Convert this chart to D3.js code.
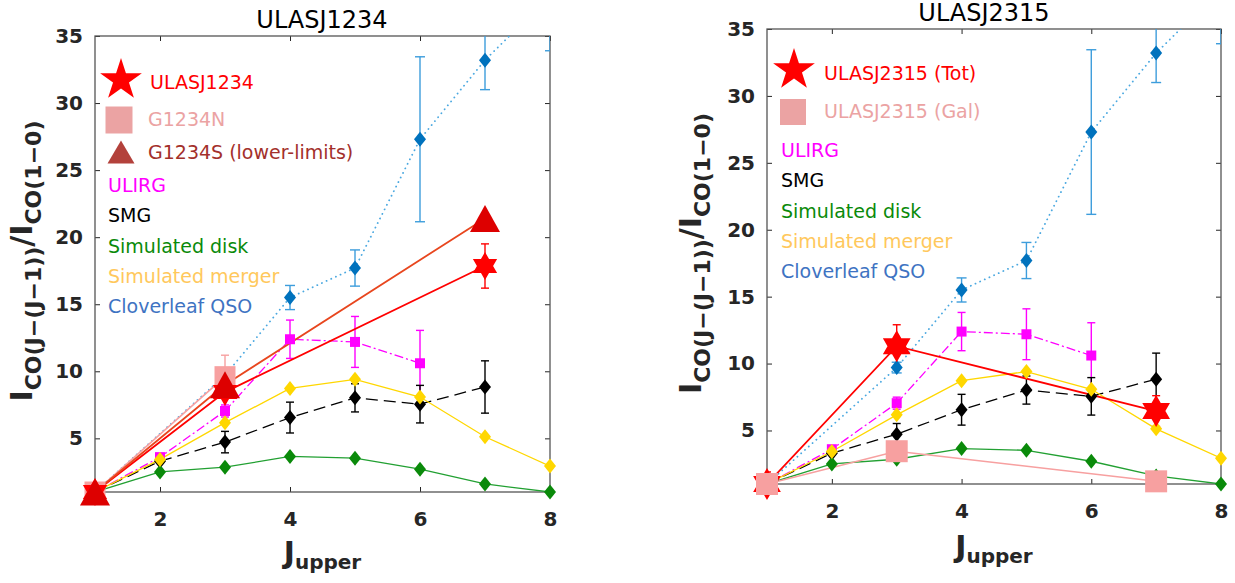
<!DOCTYPE html>
<html><head><meta charset="utf-8">
<script src="https://cdn.jsdelivr.net/npm/d3@7"></script>
<style>body{margin:0;background:#fff}text{font-family:"DejaVu Sans",sans-serif}</style>
</head><body><svg id="c" width="1235" height="583"></svg>
<script>
// ---------- data ----------
const xTicks=[2,4,6,8];
const yTicks=[5,10,15,20,25,30,35];
const modelJ=[1,2,3,4,5,6,7,8];
const ulirgJ=[1,2,3,4,5,6];
const ulirgVal=[1,3.6,7.04,12.39,12.19,10.6];
const ulirgErr=[0,0,0.45,1.43,1.9,2.45];
const smgJ=[1,2,3,4,5,6,7];
const smgVal=[1,3.3,4.72,6.55,8.02,7.55,8.83];
const smgErr=[0,0,0.8,1.15,1.05,1.4,1.95];
const diskVal=[1,2.5,2.85,3.65,3.52,2.7,1.6,1.0];
const mergerVal=[1,3.43,6.17,8.72,9.4,8.08,5.12,2.93];
const qsoJ=[1,3,4,5,6,7,8];
const qsoVal=[1,9.7,15.5,17.7,27.3,33.2,38];
const qsoErr=[0,0.4,0.9,1.35,6.15,2.2,4.1];
// ULASJ1234 panel
const u1234J=[1,3,7], u1234Val=[1,8.45,17.85], u1234Err=[0,0,1.65];
const g1234nJ=[1,3], g1234nVal=[1,9.6], g1234nErr=[0,1.6];
const g1234sJ=[1,3,7], g1234sVal=[1,9.0,21.4];
// ULASJ2315 panel
const u2315TotJ=[1,3,7], u2315TotVal=[1,11.3,6.45], u2315TotErr=[0.9,1.6,1.15];
const u2315GalJ=[1,3,7], u2315GalVal=[1,3.45,1.2];
const titles=["ULASJ1234","ULASJ2315"];
const legend1=["ULASJ1234","G1234N","G1234S (lower-limits)"];
const legend2=["ULASJ2315 (Tot)","ULASJ2315 (Gal)"];
const modelNames=["ULIRG","SMG","Simulated disk","Simulated merger","Cloverleaf QSO"];

// ---------- styles ----------
const C={red:"#ff0000",pink:"#f7a0a0",pinkTxt:"#eba3a3",tri:"#dd0000",triLine:"#e8461e",triLeg:"#b3413b",triTxt:"#a3302b",
 mag:"#ff00ff",black:"#000",green:"#0a8a0a",greenLine:"#22a032",yellow:"#ffd700",yellowTxt:"#ffc85c",
 blue:"#0072bd",blueErr:"#3d9ddc",blueLine:"#4aa8e0",blueTxt:"#3e73c2",axis:"#262626"};
const modelTxtColors=[C.mag,C.black,C.green,C.yellowTxt,C.blueTxt];

const shapes={
 hex:r=>{const p=d3.path();const ri=r/Math.sqrt(3);
   for(let i=0;i<12;i++){const a=-Math.PI/2+i*Math.PI/6,rr=i%2?ri:r;
     const x=rr*Math.cos(a),y=rr*Math.sin(a);i?p.lineTo(x,y):p.moveTo(x,y);}
   p.closePath();return p.toString();},
 diamond:(w,h)=>`M0,${-h/2}L${w/2},0L0,${h/2}L${-w/2},0Z`,
 square:s=>`M${-s/2},${-s/2}h${s}v${s}h${-s}Z`,
 tri:(w,h)=>`M0,${-h/2}L${w/2},${h/2}L${-w/2},${h/2}Z`
};

const svg=d3.select("#c");
svg.append("rect").attr("width",1235).attr("height",583).attr("fill","#fff");

const panels=[
 {x0:95,x1:550,y0:36,y1:492,titleY:28,titleX:322,ylabX:32,xlabY:563},
 {x0:767,x1:1221,y0:29,y1:484,titleY:21,titleX:984,ylabX:701,xlabY:557}
];

function zip(J,V,E){return J.map((j,i)=>({j,v:V[i],e:E?E[i]:0}));}

panels.forEach((p,pi)=>{
 const x=d3.scaleLinear([1,8],[p.x0,p.x1]);
 const y=d3.scaleLinear([1,35],[p.y1,p.y0]);
 const g=svg.append("g");
 const cid="clip"+pi;
 svg.append("clipPath").attr("id",cid).append("rect")
   .attr("x",p.x0).attr("y",p.y0).attr("width",p.x1-p.x0).attr("height",p.y1-p.y0);

 // axes (mirrored inward ticks)
 const ax=g.append("g").attr("class","axes");
 const styleAxis=s=>{s.select(".domain").remove();
   s.selectAll("line").attr("stroke",C.axis).attr("stroke-width",1);
   s.selectAll("text").attr("fill",C.axis).attr("font-size",20).attr("font-weight","bold")
    .attr("font-family","DejaVu Sans");};
 ax.append("g").attr("transform",`translate(0,${p.y1})`)
   .call(d3.axisBottom(x).tickValues(xTicks).tickSize(-5).tickPadding(20).tickFormat(d3.format("d"))).call(styleAxis);
 ax.append("g").attr("transform",`translate(0,${p.y0})`)
   .call(d3.axisTop(x).tickValues(xTicks).tickSize(-5).tickFormat("")).call(styleAxis);
 ax.append("g").attr("transform",`translate(${p.x0},0)`)
   .call(d3.axisLeft(y).tickValues(yTicks).tickSize(-5).tickPadding(12).tickFormat(d3.format("d"))).call(styleAxis);
 ax.append("g").attr("transform",`translate(${p.x1},0)`)
   .call(d3.axisRight(y).tickValues(yTicks).tickSize(-5).tickFormat("")).call(styleAxis);
 ax.append("rect").attr("x",p.x0).attr("y",p.y0).attr("width",p.x1-p.x0).attr("height",p.y1-p.y0)
   .attr("fill","none").attr("stroke","#555").attr("stroke-width",1.3);

 const line=d3.line().x(d=>x(d.j)).y(d=>y(d.v));
 const clipG=g.append("g").attr("clip-path",`url(#${cid})`);
 const markG=g.append("g");

 function series(data,o){
   if(o.line) clipG.append("path").attr("d",line(data)).attr("fill","none")
     .attr("stroke",o.line).attr("stroke-width",o.lw||1.3).attr("stroke-dasharray",o.dash||null)
     .attr("stroke-linecap",o.cap||"butt");
   const eb=data.filter(d=>d.e>0);
   const cw=o.capW||8;
   eb.forEach(d=>{
     const e=clipG.append("g").attr("stroke",o.errC||o.fill).attr("stroke-width",1.4);
     e.append("line").attr("x1",x(d.j)).attr("x2",x(d.j)).attr("y1",y(d.v-d.e)).attr("y2",y(d.v+d.e));
     [d.v-d.e,d.v+d.e].forEach(v=>e.append("line").attr("x1",x(d.j)-cw/2).attr("x2",x(d.j)+cw/2).attr("y1",y(v)).attr("y2",y(v)));
   });
   if(o.shape) markG.selectAll(null).data(data.filter(d=>d.v<=35&&(!o.skip||!o.skip(d)))).join("path")
     .attr("transform",d=>`translate(${x(d.j)},${y(d.v)})`).attr("d",o.shape)
     .attr("fill",o.fill).attr("stroke",o.stroke||"none").attr("stroke-width",0.8);
 }

 // models
 const dia=shapes.diamond(12,15);
 series(zip(qsoJ,qsoVal,qsoErr),{line:C.blueLine,dash:"0.1,5",cap:"round",lw:1.8,fill:C.blue,errC:C.blueErr,capW:10,shape:dia,skip:d=>d.j===1});
 series(zip(ulirgJ,ulirgVal,ulirgErr),{line:C.mag,dash:"9,3,2,3",fill:C.mag,shape:shapes.square(10),skip:d=>d.j===1});
 series(zip(smgJ,smgVal,smgErr),{line:C.black,dash:"12,6",fill:C.black,shape:dia,skip:d=>d.j===1});
 series(zip(modelJ,diskVal),{line:C.greenLine,fill:C.green,shape:dia,skip:d=>d.j===1});
 series(zip(modelJ,mergerVal),{line:C.yellow,fill:C.yellow,shape:dia,skip:d=>d.j===1});

 if(pi===0){
   series(zip(g1234nJ,g1234nVal,g1234nErr),{line:C.pink,lw:1.6,fill:C.pink,errC:C.pink,shape:shapes.square(21)});
   series(zip(u1234J,u1234Val,u1234Err),{line:C.red,lw:1.8,fill:C.red,shape:shapes.hex(14)});
   series(zip(g1234sJ,g1234sVal),{line:C.triLine,lw:1.8,fill:C.tri,shape:shapes.tri(30,27)});
 } else {
   series(zip(u2315TotJ,u2315TotVal,u2315TotErr),{line:C.red,lw:1.8,fill:C.red,shape:shapes.hex(16)});
   series(zip(u2315GalJ,u2315GalVal),{line:C.pink,lw:1.6,fill:C.pink,shape:shapes.square(22)});
 }

 // title
 g.append("text").attr("x",p.titleX).attr("y",p.titleY).attr("text-anchor","middle")
  .attr("font-size",24).attr("fill","#000").text(titles[pi]);

 // y label
 const yl=g.append("text").attr("transform",`translate(${p.ylabX},${(p.y0+p.y1)/2-3}) rotate(-90)`)
   .attr("text-anchor","middle").attr("font-weight","bold").attr("fill",C.axis);
 yl.append("tspan").attr("font-size",30).text("I");
 yl.append("tspan").attr("font-size",22).attr("dy",9).text("CO(J−(J−1))");
 yl.append("tspan").attr("font-size",30).attr("dy",-9).text("/I");
 yl.append("tspan").attr("font-size",22).attr("dy",9).text("CO(1−0)");

 // x label
 const xl=g.append("text").attr("x",(p.x0+p.x1)/2).attr("y",p.xlabY).attr("text-anchor","middle")
   .attr("font-weight","bold").attr("fill",C.axis);
 xl.append("tspan").attr("font-size",30).text("J");
 xl.append("tspan").attr("font-size",20).attr("dy",6).text("upper");

 // legend
 const lg=g.append("g").attr("font-size",19);
 const starSym=d3.symbol().type(d3.symbolStar).size(540)();
 if(pi===0){
   lg.append("path").attr("d",starSym).attr("transform","translate(121,80)").attr("fill",C.red);
   lg.append("text").attr("x",150).attr("y",89).attr("fill",C.red).text(legend1[0]);
   lg.append("path").attr("d",shapes.square(27)).attr("transform","translate(119,120)").attr("fill",C.pinkTxt);
   lg.append("text").attr("x",148).attr("y",126).attr("fill",C.pinkTxt).text(legend1[1]);
   lg.append("path").attr("d",shapes.tri(27,23)).attr("transform","translate(121,152)").attr("fill",C.triLeg);
   lg.append("text").attr("x",148).attr("y",159).attr("fill",C.triTxt).text(legend1[2]);
   modelNames.forEach((n,i)=>lg.append("text").attr("x",108).attr("y",192+i*30.3).attr("fill",modelTxtColors[i]).text(n));
 } else {
   lg.append("path").attr("d",starSym).attr("transform","translate(794,70)").attr("fill",C.red);
   lg.append("text").attr("x",824).attr("y",80).attr("fill",C.red).text(legend2[0]);
   lg.append("path").attr("d",shapes.square(26)).attr("transform","translate(793,112)").attr("fill",C.pinkTxt);
   lg.append("text").attr("x",824).attr("y",118).attr("fill",C.pinkTxt).text(legend2[1]);
   modelNames.forEach((n,i)=>lg.append("text").attr("x",781).attr("y",157+i*30.3).attr("fill",modelTxtColors[i]).text(n));
 }
});
</script></body></html>
